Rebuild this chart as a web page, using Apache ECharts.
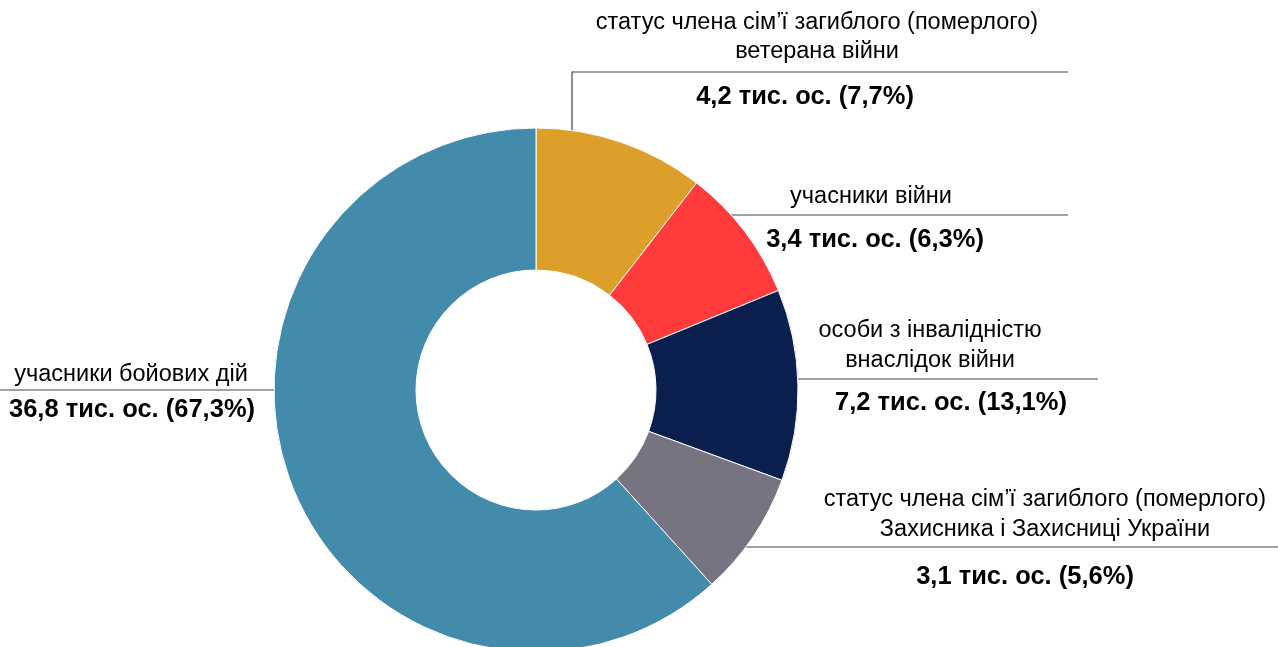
<!DOCTYPE html>
<html>
<head>
<meta charset="utf-8">
<script src="https://cdn.jsdelivr.net/npm/echarts@6/dist/echarts.min.js"></script>
<style>
  html, body { margin: 0; padding: 0; background: #fff; }
  #chart { width: 1278px; height: 647px; }
</style>
</head>
<body>
<div id="chart"></div>
<script>
// categories, clockwise from 12 o'clock
const categories = [
  'статус члена сім’ї загиблого (померлого)\nветерана війни',
  'учасники війни',
  'особи з інвалідністю\nвнаслідок війни',
  'статус члена сім’ї загиблого (померлого)\nЗахисника і Захисниці України',
  'учасники бойових дій'
];
const counts = ['4,2', '3,4', '7,2', '3,1', '36,8'];       // тис. ос.
const shares = ['7,7', '6,3', '13,1', '5,6', '67,3'];      // %
// slice sizes as drawn in the picture (measured angles, % of circle)
const sliceSizes = [10.5, 8.3, 11.8, 7.7, 61.7];
const colors = ['#DCA02A', '#FF3B3B', '#0B1F4F', '#777482', '#438BAB'];

// label placement (leader line y, line end x, text anchors)
const CX = 536, CY = 390, R_OUT = 262, R_IN = 120;
const labelPos = [
  { lineY: 72,  x0: 572, x1: 1068, vertical: true, nameX: 817, nameY: 37,    valX: 805, valY: 97 },
  { lineY: 215, x1: 1068, nameX: 871, nameY: 197,   valX: 875, valY: 240 },
  { lineY: 379, x1: 1098, nameX: 930, nameY: 345.5, valX: 951, valY: 403 },
  { lineY: 547, x1: 1278, nameX: 1045, nameY: 514.5, valX: 1025, valY: 577 },
  { lineY: 390, x1: 0, left: true, nameX: 131, nameY: 375, valX: 132, valY: 410 }
];

const arcX = (y, left) => {
  const d = Math.sqrt(R_OUT * R_OUT - (y - CY) * (y - CY));
  return left ? CX - d : CX + d;
};

const data = categories.map((name, i) => ({
  name,
  value: sliceSizes[i],
  itemStyle: { color: colors[i] }
}));

const chart = echarts.init(document.getElementById('chart'), null, { renderer: 'canvas' });
const FONT = '"Liberation Sans", Arial, sans-serif';

const base = {
  type: 'pie',
  center: [CX, CY],
  radius: [R_IN, R_OUT],
  startAngle: 90,
  clockwise: true,
  avoidLabelOverlap: false,
  animation: false,
  silent: true,
  data,
  itemStyle: { borderColor: '#fff', borderWidth: 1 }
};

chart.setOption({
  backgroundColor: '#fff',
  series: [
    {
      ...base,
      z: 1,
      label: {
        show: true,
        position: 'outside',
        formatter: p => counts[p.dataIndex] + ' тис. ос. (' + shares[p.dataIndex] + '%)',
        fontFamily: FONT,
        fontSize: 25.5,
        fontWeight: 'bold',
        color: '#000'
      },
      labelLine: { show: false },
      labelLayout: p => {
        const c = labelPos[p.dataIndex];
        return { x: c.valX, y: c.valY, align: 'center', verticalAlign: 'middle' };
      }
    },
    {
      ...base,
      z: 2,
      label: {
        show: true,
        position: 'outside',
        formatter: '{b}',
        fontFamily: FONT,
        fontSize: 23.5,
        lineHeight: 29.5,
        color: '#000'
      },
      labelLine: { show: true, lineStyle: { color: '#444', width: 1.2 } },
      labelLayout: p => {
        const c = labelPos[p.dataIndex];
        let pts;
        if (c.vertical) {
          const y0 = CY - Math.sqrt(R_OUT * R_OUT - (c.x0 - CX) * (c.x0 - CX));
          pts = [[c.x0, y0], [c.x0, c.lineY], [c.x1, c.lineY]];
        } else {
          const xa = arcX(c.lineY, c.left);
          pts = [[xa, c.lineY], [(xa + c.x1) / 2, c.lineY], [c.x1, c.lineY]];
        }
        return {
          x: c.nameX, y: c.nameY, align: 'center', verticalAlign: 'middle',
          labelLinePoints: pts
        };
      }
    }
  ]
});
</script>
</body>
</html>
